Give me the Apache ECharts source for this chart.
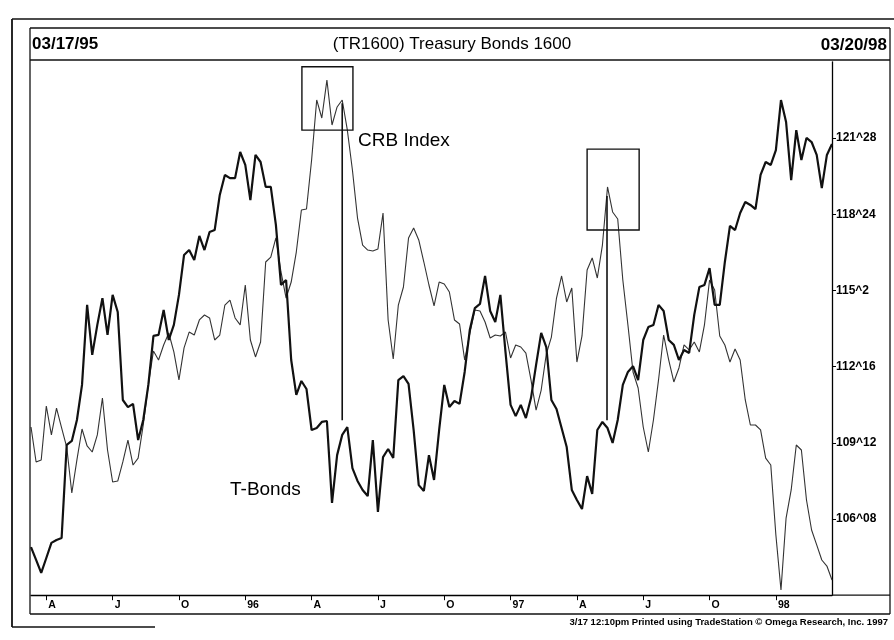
<!DOCTYPE html>
<html>
<head>
<meta charset="utf-8">
<script src="https://cdn.jsdelivr.net/npm/echarts@6.0.0/dist/echarts.min.js"></script>
<style>
html,body{margin:0;padding:0;background:#fff;}
#c{width:894px;height:640px;}
</style>
</head>
<body>
<div id="c"></div>
<script>
// ---- data ----
const startDate = '1995-03-17';   // first weekly close
const weekCount = 158;            // through 1998-03-20

// Treasury bond futures, weekly (right axis)
const tbonds = [105.10,104.57,104.04,104.65,105.27,105.39,105.47,109.29,109.45,110.31,
111.75,115.03,112.98,114.21,115.31,113.80,115.44,114.74,111.13,110.84,
110.97,109.49,110.31,111.75,113.76,113.80,114.82,113.59,114.21,115.44,
117.08,117.28,116.87,117.86,117.28,118.02,118.10,119.54,120.36,120.23,
120.23,121.30,120.77,119.33,121.18,120.89,119.87,119.87,118.31,115.85,
116.05,112.77,111.34,111.91,111.58,109.90,109.98,110.23,110.27,106.91,
108.87,109.70,110.02,108.34,107.81,107.44,107.19,109.49,106.54,108.79,
109.12,108.75,111.95,112.11,111.79,109.90,107.64,107.40,108.87,107.85,
109.90,111.75,110.84,111.09,110.97,112.28,114.00,114.90,115.07,116.22,
114.78,114.33,115.44,113.10,110.93,110.47,110.93,110.39,111.21,112.57,
113.88,113.30,111.13,110.76,109.98,109.20,107.44,107.03,106.66,108.01,
107.28,109.90,110.23,109.98,109.37,110.31,111.75,112.28,112.52,111.95,
113.59,114.12,114.21,115.03,114.78,113.59,113.39,112.77,113.18,113.06,
114.62,115.76,115.85,116.54,115.03,115.03,116.79,118.27,118.10,118.80,
119.25,119.13,118.96,120.36,120.89,120.77,121.38,123.43,122.53,120.15,
122.20,120.97,121.88,121.71,121.18,119.82,121.18,121.63];

// CRB Index, weekly (overlay, unlabelled scale)
const crb = [234.19,231.24,231.41,235.96,233.52,235.79,234.11,232.50,228.62,231.41,
234.02,232.59,232.08,233.52,236.64,232.25,229.55,229.63,231.24,233.09,
230.98,231.57,234.36,237.73,240.60,239.84,241.11,242.12,240.52,238.16,
240.86,242.20,241.95,243.22,243.64,243.39,241.53,241.95,244.48,244.90,
243.39,242.80,246.17,241.53,240.10,241.36,248.11,248.53,250.14,247.27,
245.07,246.42,248.95,252.50,252.58,256.72,261.78,260.26,263.46,259.67,
261.19,261.78,259.25,255.87,251.82,249.54,249.12,249.04,249.21,252.24,
243.22,239.93,244.48,246.00,250.14,250.98,249.97,248.11,246.17,244.40,
246.42,246.25,245.58,243.22,242.88,239.84,242.04,244.06,243.98,243.05,
241.70,241.95,241.87,242.20,240.01,241.11,240.94,240.43,238.16,235.62,
237.31,240.35,241.78,245.07,246.93,244.74,245.92,239.67,241.87,247.44,
248.45,246.76,249.54,254.44,252.33,251.74,246.59,242.80,238.83,237.48,
234.19,232.08,234.78,238.16,241.95,239.84,237.99,239.17,241.11,240.69,
241.36,240.52,242.80,246.59,245.75,241.87,241.11,239.67,240.77,239.84,
236.47,234.36,234.36,233.94,231.57,230.98,225.08,220.44,226.51,228.88,
232.67,232.25,228.03,225.50,224.24,222.97,222.46,221.28];

// x-axis quarter marks
const xTickDates  = ['1995-04-07','1995-07-07','1995-10-06','1996-01-05','1996-04-05','1996-07-05',
                     '1996-10-04','1997-01-03','1997-04-04','1997-07-04','1997-10-03','1998-01-02'];
const xTickLabels = ['A','J','O','96','A','J','O','97','A','J','O','98'];

// right-axis ticks (32nds)
const yTickValues = [106.25,109.375,112.5,115.625,118.75,121.875];
const yTickLabels = ['106^08','109^12','112^16','115^2','118^24','121^28'];

// header / notes
const titleText = '(TR1600) Treasury Bonds 1600';
const firstDateText = '03/17/95';
const lastDateText = '03/20/98';
const footText = '3/17 12:10pm Printed using TradeStation \u00A9 Omega Research, Inc. 1997';

// annotations in data space (week index, T-bond price)
const boxes = [
  {from: 53.1, to: 63.1, top: 124.80, bottom: 122.20},
  {from: 109.0, to: 119.2, top: 121.42, bottom: 118.10}
];
const pointers = [
  {at: 61.0, from: 123.30, to: 110.30},
  {at: 112.9, from: 119.50, to: 110.30}
];

// ---- build categories ----
const categories = [];
(function(){
  const p = startDate.split('-').map(Number);
  let t = Date.UTC(p[0], p[1]-1, p[2]);
  for (let i = 0; i < weekCount; i++) {
    const d = new Date(t);
    const s = d.getUTCFullYear() + '-' + String(d.getUTCMonth()+1).padStart(2,'0') + '-' + String(d.getUTCDate()).padStart(2,'0');
    categories.push(s);
    t += 7*86400000;
  }
})();

const FONT = '"Liberation Sans", Arial, Helvetica, sans-serif';
const isQuarter = (idx, val) => xTickDates.indexOf(val) >= 0;
const yLabel = v => { for (let i = 0; i < yTickValues.length; i++) { if (Math.abs(v - yTickValues[i]) < 1e-6) return yTickLabels[i]; } return ''; };

const option = {
  animation: false,
  backgroundColor: '#fff',
  grid: {left: 31, right: 62, top: 61.8, bottom: 44.8, containLabel: false},
  xAxis: {
    type: 'category',
    data: categories,
    boundaryGap: false,
    axisLine: {show: true, lineStyle: {color: '#000', width: 1.3}},
    axisTick: {show: true, interval: isQuarter, length: 5, inside: false, lineStyle: {color: '#000', width: 1}},
    axisLabel: {
      show: true, interval: isQuarter, align: 'left', margin: 4, padding: [0,0,0,2],
      color: '#000', fontSize: 10.5, fontWeight: 'bold', fontFamily: FONT,
      formatter: v => { const k = xTickDates.indexOf(v); return k >= 0 ? xTickLabels[k] : ''; }
    },
    splitLine: {show: false}
  },
  yAxis: [
    {
      type: 'value', position: 'right', min: 103.125, max: 125, interval: 3.125,
      axisLine: {show: true, onZero: false, lineStyle: {color: '#000', width: 1.3}},
      axisTick: {show: true, length: 4, inside: false, customValues: yTickValues, lineStyle: {color: '#000'}},
      axisLabel: {
        show: true, margin: 4, color: '#000', fontSize: 12, fontWeight: 'bold', fontFamily: FONT,
        customValues: yTickValues, formatter: yLabel
      },
      splitLine: {show: false}
    },
    {type: 'value', min: 220, max: 265, show: false, splitLine: {show: false}}
  ],
  series: [
    {name: 'T-Bonds', type: 'line', yAxisIndex: 0, data: tbonds, showSymbol: false, symbol: 'none',
     lineStyle: {color: '#111', width: 2.2}, z: 3},
    {name: 'CRB Index', type: 'line', yAxisIndex: 1, data: crb, showSymbol: false, symbol: 'none',
     lineStyle: {color: '#333', width: 1.1}, z: 2}
  ]
};

const chart = echarts.init(document.getElementById('c'), null, {renderer: 'canvas'});
chart.setOption(option);

function px(idx, val) {
  const a = chart.convertToPixel({seriesIndex: 0}, [0, val]);
  const b = chart.convertToPixel({seriesIndex: 0}, [categories.length - 1, val]);
  return [a[0] + (b[0] - a[0]) * idx / (categories.length - 1), a[1]];
}

const LC = '#111';
function line(x1, y1, x2, y2, w) {
  return {type: 'line', shape: {x1, y1, x2, y2}, style: {stroke: LC, lineWidth: w || 1.2}, silent: true, z: 10};
}

const g = [];
// outer scan frame
g.push(line(12, 19, 894, 19, 1.6));
g.push(line(12, 19, 12, 627, 1.8));
g.push(line(12, 627, 155, 627, 1.6));
// chart box
g.push(line(30, 28, 890, 28, 1.3));
g.push(line(30, 60, 890, 60, 1.3));
g.push(line(30, 28, 30, 614, 1.3));
g.push(line(890, 28, 890, 614, 1.3));
g.push(line(30, 614, 890, 614, 1.3));
g.push(line(832, 595.2, 890, 595.2, 1.3));
// header texts
g.push({type: 'text', x: 32, y: 44, style: {text: firstDateText, font: 'bold 17px ' + FONT, fill: '#000', textVerticalAlign: 'middle', textAlign: 'left'}, z: 11});
g.push({type: 'text', x: 452, y: 44, style: {text: titleText, font: '17px ' + FONT, fill: '#000', textVerticalAlign: 'middle', textAlign: 'center'}, z: 11});
g.push({type: 'text', x: 887, y: 45, style: {text: lastDateText, font: 'bold 17px ' + FONT, fill: '#000', textVerticalAlign: 'middle', textAlign: 'right'}, z: 11});
// footnote
g.push({type: 'text', x: 888, y: 622, style: {text: footText, font: 'bold 9.5px ' + FONT, fill: '#000', textVerticalAlign: 'middle', textAlign: 'right'}, z: 11});
// series captions
g.push({type: 'text', x: 358, y: 141, style: {text: 'CRB Index', font: '19px ' + FONT, fill: '#000', textVerticalAlign: 'middle', textAlign: 'left'}, z: 11});
g.push({type: 'text', x: 230, y: 490, style: {text: 'T-Bonds', font: '19px ' + FONT, fill: '#000', textVerticalAlign: 'middle', textAlign: 'left'}, z: 11});
// boxes and pointer lines
boxes.forEach(b => {
  const p1 = px(b.from, b.top), p2 = px(b.to, b.bottom);
  g.push({type: 'rect', shape: {x: p1[0], y: p1[1], width: p2[0] - p1[0], height: p2[1] - p1[1]},
          style: {fill: 'none', stroke: LC, lineWidth: 1.4}, silent: true, z: 10});
});
pointers.forEach(p => {
  const a = px(p.at, p.from), b = px(p.at, p.to);
  g.push(line(a[0], a[1], b[0], b[1], 1.6));
});
chart.setOption({graphic: g});
</script>
</body>
</html>
